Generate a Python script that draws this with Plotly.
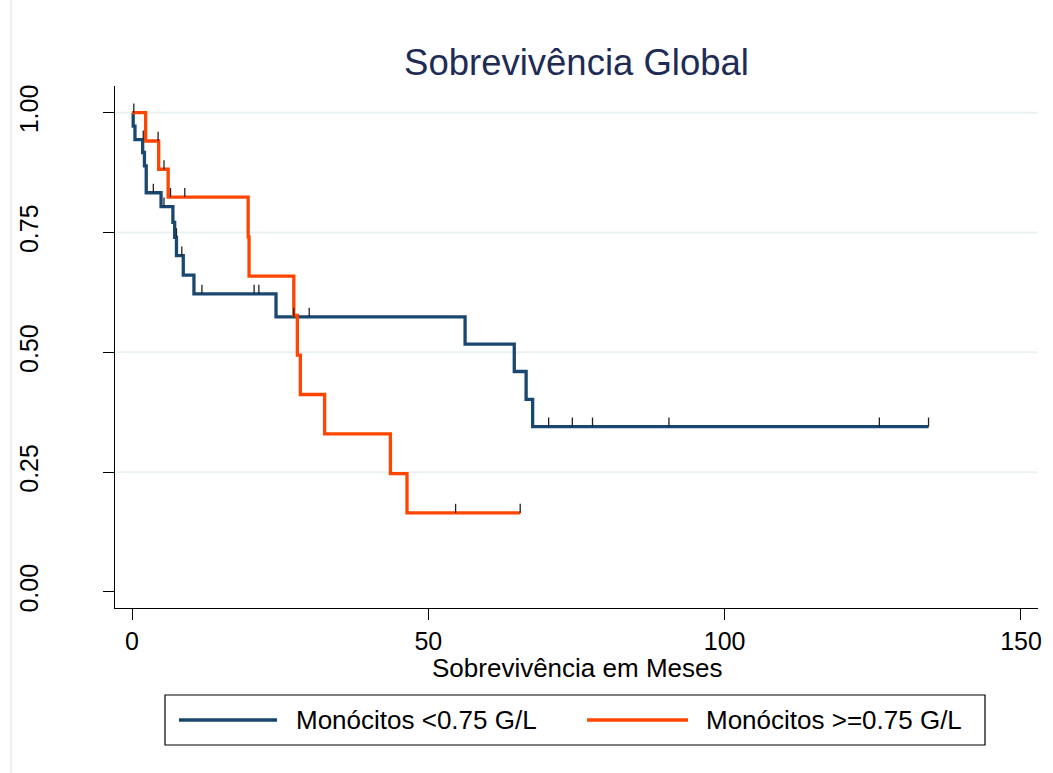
import plotly.graph_objects as go

# Kaplan-Meier step values (months, survival probability)
blue_name = "Monócitos <0.75 G/L"
blue_times = [0, 0.2, 0.5, 1.8, 2.1, 2.4, 4.9, 6.9, 7.2, 7.5, 8.65, 10.45, 24.3, 56.2, 64.5, 66.5, 67.6, 134.4]
blue_surv = [1.0, 0.972, 0.944, 0.917, 0.889, 0.833, 0.804, 0.771, 0.740, 0.702, 0.661, 0.622, 0.574, 0.517, 0.460, 0.402, 0.345, 0.345]
blue_cens_t = [1.9, 3.6, 5.4, 7.5, 8.4, 11.8, 20.6, 21.4, 27.3, 29.9, 70.3, 74.3, 77.7, 90.6, 126.1, 134.4]
blue_cens_s = [0.944, 0.833, 0.804, 0.740, 0.702, 0.622, 0.622, 0.622, 0.574, 0.574, 0.345, 0.345, 0.345, 0.345, 0.345, 0.345]

orange_name = "Monócitos >=0.75 G/L"
orange_times = [0, 2.3, 4.5, 6.1, 19.6, 19.75, 27.3, 27.9, 28.4, 32.5, 43.6, 46.4, 65.5]
orange_surv = [1.0, 0.941, 0.882, 0.824, 0.741, 0.659, 0.577, 0.494, 0.412, 0.330, 0.247, 0.165, 0.165]
orange_cens_t = [0.3, 4.4, 5.4, 6.5, 8.9, 54.6, 65.5]
orange_cens_s = [1.0, 0.941, 0.882, 0.824, 0.824, 0.165, 0.165]

x_ticks = [0, 50, 100, 150]
y_ticks = [0.0, 0.25, 0.5, 0.75, 1.0]
y_ticklabels = ["0.00", "0.25", "0.50", "0.75", "1.00"]
grid_vals = [0.25, 0.5, 0.75, 1.0]
x_title = "Sobrevivência em Meses"
main_title = "Sobrevivência Global"

BLUE = "#1a476f"
ORANGE = "#ff4500"
FONT = "Liberation Sans, Arial, sans-serif"
TICK_H = 0.019

W, H = 1053, 773
ML, MR, MT, MB = 115, 15, 86, 165
PW, PH = W - ML - MR, H - MT - MB


def px(x):
    return (x - ML) / PW


def py(y):
    return (H - MB - y) / PH


def censor_segments(ts, ss):
    xs, ys = [], []
    for t, s in zip(ts, ss):
        xs += [t, t, None]
        ys += [s, s + TICK_H, None]
    return xs, ys


fig = go.Figure()

for t, s, c, name in [(blue_times, blue_surv, BLUE, blue_name),
                      (orange_times, orange_surv, ORANGE, orange_name)]:
    fig.add_trace(go.Scatter(x=t, y=s, mode="lines", line=dict(color=c, width=3.3, shape="hv"),
                             name=name, showlegend=False))

for ts, ss in [(blue_cens_t, blue_cens_s), (orange_cens_t, orange_cens_s)]:
    cx, cy = censor_segments(ts, ss)
    fig.add_trace(go.Scatter(x=cx, y=cy, mode="lines", line=dict(color="#222222", width=1.3),
                             showlegend=False, hoverinfo="skip"))

for g in grid_vals:
    fig.add_hline(y=g, line=dict(color="#eaf1f3", width=2), layer="below")

# legend box drawn by hand
lx0, lx1, ly0, ly1 = 165, 985, 695, 745
shapes = [
    dict(type="rect", xref="paper", yref="paper", x0=px(lx0), x1=px(lx1), y0=py(ly0), y1=py(ly1),
         line=dict(color="#000000", width=1.2), fillcolor="white"),
    dict(type="line", xref="paper", yref="paper", x0=px(179), x1=px(277), y0=py(720), y1=py(720),
         line=dict(color=BLUE, width=3.3)),
    dict(type="line", xref="paper", yref="paper", x0=px(587), x1=px(688), y0=py(720), y1=py(720),
         line=dict(color=ORANGE, width=3.3)),
    dict(type="line", xref="paper", yref="paper", x0=px(11), x1=px(11), y0=py(0), y1=py(H),
         line=dict(color="#e4ecee", width=1.5)),
]
for sh in shapes:
    fig.add_shape(**sh)

for xp, txt in [(294, blue_name), (704, orange_name)]:
    fig.add_annotation(xref="paper", yref="paper", x=px(xp), y=py(720), text=txt, showarrow=False,
                       xanchor="left", yanchor="middle", font=dict(family=FONT, size=26, color="#000000"))

# x-axis title
fig.add_annotation(xref="paper", yref="paper", x=0.5, y=py(668), text=x_title, showarrow=False,
                   xanchor="center", yanchor="middle", font=dict(family=FONT, size=26, color="#000000"))

fig.update_layout(
    width=W, height=H, autosize=False,
    margin=dict(l=ML, r=MR, t=MT, b=MB),
    paper_bgcolor="white", plot_bgcolor="white",
    title=dict(text=main_title, x=0.5, xref="paper", xanchor="center",
               y=1 - 62.5 / H, yref="container", yanchor="middle",
               font=dict(family=FONT, size=36.5, color="#1e2c55")),
    xaxis=dict(range=[-2.87, 152.87], tickvals=x_ticks, ticks="outside", ticklen=11, tickwidth=1.2,
               tickcolor="#000000", showline=True, linecolor="#000000", linewidth=1.2,
               showgrid=False, zeroline=False,
               tickfont=dict(family=FONT, size=25, color="#000000")),
    yaxis=dict(range=[-0.0334, 1.0557], tickvals=y_ticks, ticktext=y_ticklabels, tickangle=-90,
               ticks="outside", ticklen=11, tickwidth=1.2, tickcolor="#000000",
               showline=True, linecolor="#000000", linewidth=1.2, showgrid=False, zeroline=False,
               ticklabelstandoff=55,
               tickfont=dict(family=FONT, size=25, color="#000000")),
)

fig.write_html("out.html")
